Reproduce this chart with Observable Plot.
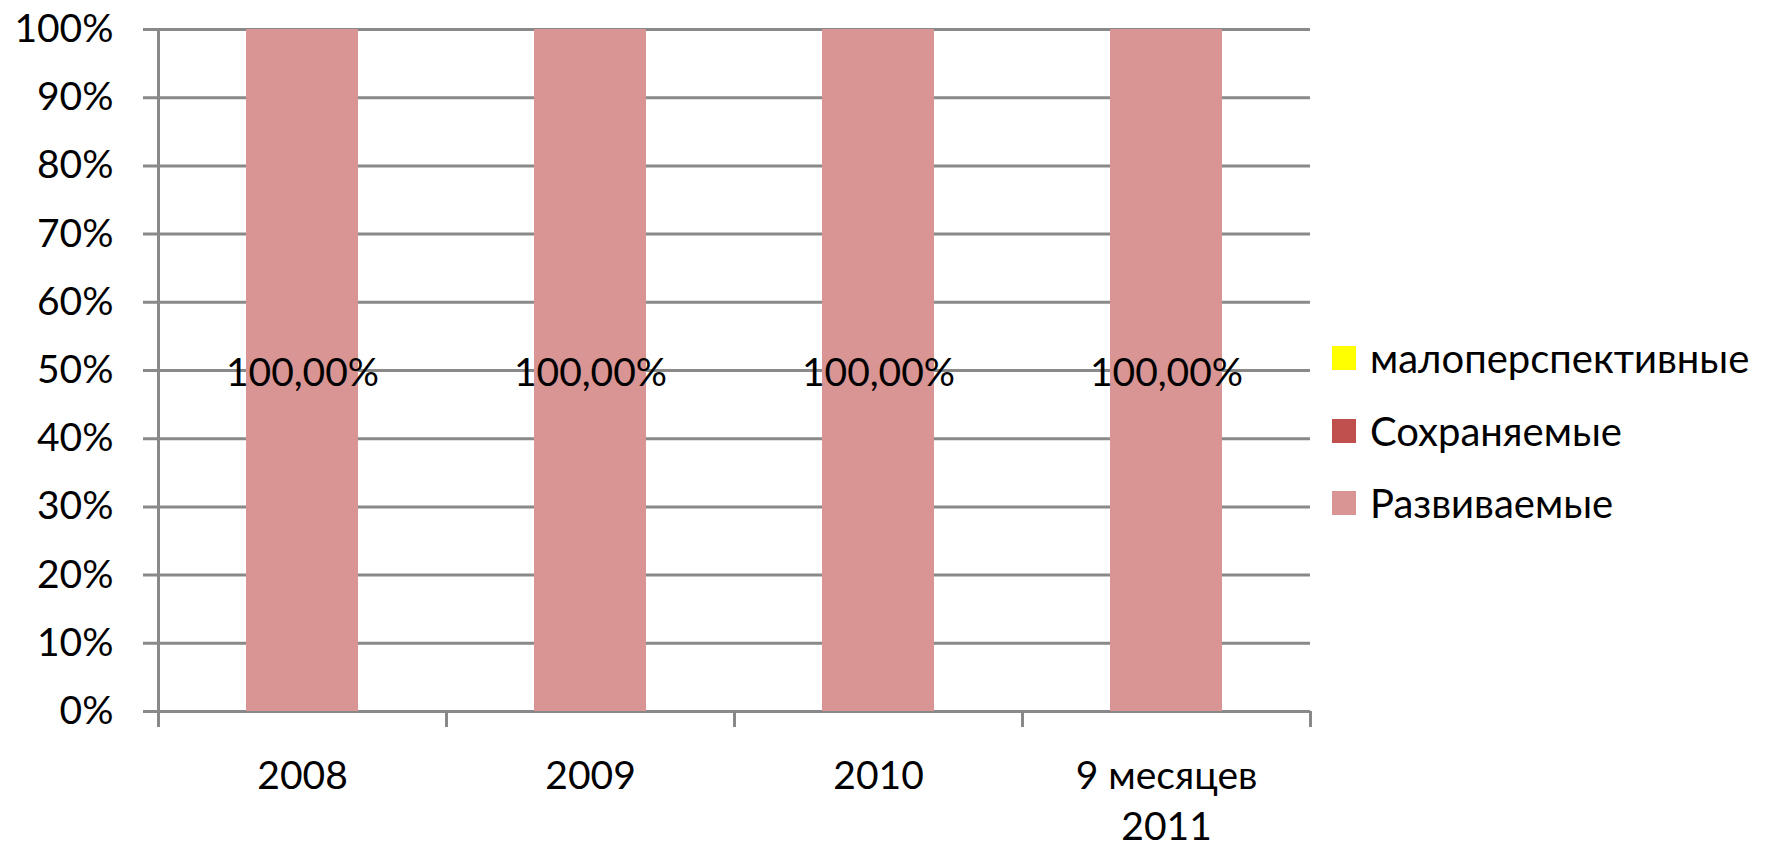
<!DOCTYPE html>
<html>
<head>
<meta charset="utf-8">
<script src="https://cdn.jsdelivr.net/npm/d3@7"></script>
<script src="https://cdn.jsdelivr.net/npm/@observablehq/plot@0.6"></script>
<style>
  html, body { margin: 0; padding: 0; background: #fff; }
  #wrap { position: relative; width: 1790px; height: 849px; }
  #legend { position: absolute; left: 1332px; top: 322px; font-family: Lato, "Open Sans", sans-serif; font-size: 40px; color: #000; }
  .row { display: flex; align-items: center; height: 72.5px; }
  .sw { width: 24px; height: 24px; margin-right: 14px; }
</style>
</head>
<body>
<div id="wrap"></div>
<script>
const years = ["2008", "2009", "2010", "9 месяцев\n2011"];
const seriesNames = ["малоперспективные", "Сохраняемые", "Развиваемые"];
const seriesColors = ["#FFFF00", "#C0504D", "#D99594"];
const valsMalo = [0, 0, 0, 0];
const valsSohr = [0, 0, 0, 0];
const valsRazv = [100, 100, 100, 100];
const yTicks = [0, 0.1, 0.2, 0.3, 0.4, 0.5, 0.6, 0.7, 0.8, 0.9, 1];

const seriesVals = [valsMalo, valsSohr, valsRazv];
// stacking order bottom -> top : Развиваемые, Сохраняемые, малоперспективные
const stackOrder = ["Развиваемые", "Сохраняемые", "малоперспективные"];
const rows = [];
years.forEach((yr, i) => {
  stackOrder.forEach(s => {
    const k = seriesNames.indexOf(s);
    rows.push({year: yr, series: s, value: seriesVals[k][i] / 100});
  });
});

const W = 1790, H = 849, mL = 158, mR = 480, mT = 29, mB = 138;
const step = (W - mL - mR) / years.length;
const grid = "#898989";
const fontFamily = 'Lato, "Open Sans", sans-serif';

const fmt = v => (v * 100).toFixed(2).replace(".", ",") + "%";

const chart = Plot.plot({
  width: W, height: H,
  marginLeft: mL, marginRight: mR, marginTop: mT, marginBottom: mB,
  style: {fontSize: "39px", fontFamily, color: "#000", background: "#fff"},
  x: {domain: years, paddingInner: 0.61, paddingOuter: 0.305, axis: null},
  y: {domain: [0, 1], ticks: yTicks, tickFormat: d3.format(".0%"), tickSize: 0, tickPadding: 45, label: null},
  color: {domain: seriesNames, range: seriesColors},
  marks: [
    Plot.ruleY(yTicks, {stroke: grid, strokeWidth: 3, insetLeft: -15}),
    Plot.barY(rows, Plot.stackY({x: "year", y: "value", z: "series", fill: "series", order: stackOrder})),
    Plot.ruleX([years[0]], {x: d => d, y1: 1, y2: 0, dx: -step / 2, stroke: grid, strokeWidth: 3, insetBottom: -16}),
    Plot.ruleX(years, {x: d => d, y1: 0, y2: 0, dx: step / 2, stroke: grid, strokeWidth: 3, insetBottom: -16}),
    Plot.text(rows, Plot.stackY({x: "year", y: "value", z: "series", order: stackOrder, text: d => d.value > 0 ? fmt(d.value) : null, fill: "#000", fontSize: 39, dy: 3})),
    Plot.text(years, {x: d => d, y: 0, text: d => d, dy: 41, lineAnchor: "top", lineHeight: 1.31, fill: "#000", fontSize: 39})
  ]
});
document.getElementById("wrap").appendChild(chart);

const legend = document.createElement("div");
legend.id = "legend";
seriesNames.forEach((n, i) => {
  const r = document.createElement("div");
  r.className = "row";
  const sw = document.createElement("div");
  sw.className = "sw";
  sw.style.background = seriesColors[i];
  const t = document.createElement("span");
  t.textContent = n;
  r.appendChild(sw); r.appendChild(t);
  legend.appendChild(r);
});
document.getElementById("wrap").appendChild(legend);
</script>
</body>
</html>
